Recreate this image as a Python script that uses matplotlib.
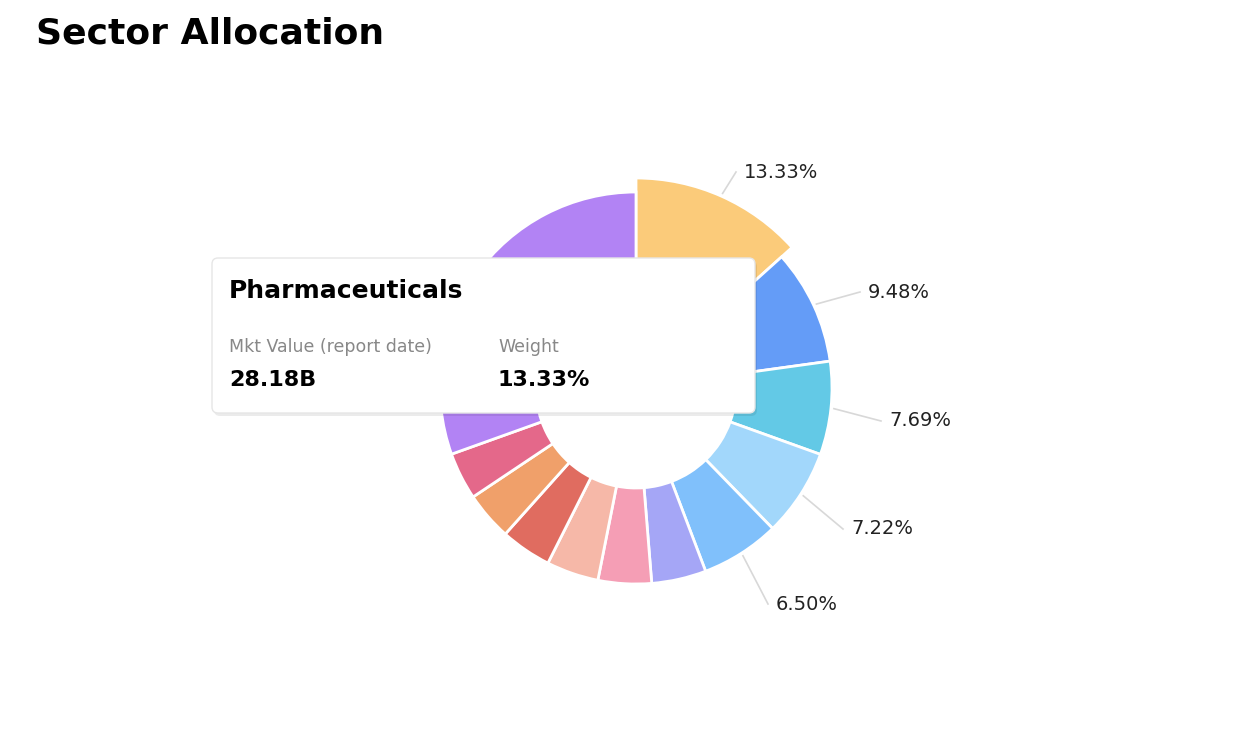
import matplotlib
matplotlib.use("Agg")
import matplotlib.pyplot as plt
from matplotlib.patches import FancyBboxPatch
import numpy as np

sectors = ["Pharmaceuticals", "S2", "S3", "S4", "S5", "S6", "S7", "S8", "S9", "S10", "S11", "S12"]
weights = [13.33, 9.48, 7.69, 7.22, 6.50, 4.5, 4.4, 4.3, 4.2, 4.0, 3.9, 30.48]
colors = ["#fbcb7a", "#649cf7", "#63c9e6", "#a2d7fb", "#80c0fb", "#a5a6f6", "#f59eb5",
          "#f6b8a8", "#e06c60", "#f0a06a", "#e4688a", "#b283f4"]
labeled = 5

W, H = 1250, 746
fig = plt.figure(figsize=(12.5, 7.46), dpi=100)
ax = fig.add_axes([0, 0, 1, 1])
ax.set_xlim(0, W); ax.set_ylim(0, H); ax.axis("off")

cx, cy = 636, H - 388
R, Rin = 196, 100
wedges, _ = ax.pie(weights, colors=colors, startangle=90, counterclock=False,
                   center=(cx, cy), radius=R, frame=True,
                   wedgeprops=dict(width=R - Rin, edgecolor="white", linewidth=2))
wedges[0].set_radius(210)
wedges[0].set_width(210 - Rin)
ax.set_xlim(0, W); ax.set_ylim(0, H); ax.axis("off"); ax.set_aspect("equal")

lab_pos = [(744, 172), (868, 292), (889, 421), (851, 529), (776, 604)]
cum = 0
for i in range(labeled):
    mid = 90 - (cum + weights[i] / 2) * 3.6
    cum += weights[i]
    r0 = (210 if i == 0 else R) + 3
    a = np.deg2rad(mid)
    x0, y0 = cx + r0 * np.cos(a), cy + r0 * np.sin(a)
    lx, ly = lab_pos[i]
    ax.plot([x0, lx - 8], [y0, H - ly], color="#d8d8d8", lw=1.2, zorder=1)
    ax.text(lx, H - ly, f"{weights[i]:.2f}%", fontsize=14, va="center", ha="left",
            color="#222222")

# tooltip
shadow = FancyBboxPatch((214, H - 416), 543, 155, boxstyle="round,pad=0,rounding_size=6",
                        fc="#000000", ec="none", alpha=0.08, zorder=5)
ax.add_patch(shadow)
box = FancyBboxPatch((212, H - 413), 543, 155, boxstyle="round,pad=0,rounding_size=6",
                     fc="white", ec="#e6e6e6", lw=1, zorder=6)
ax.add_patch(box)
ax.text(229, H - 291, "Pharmaceuticals", fontsize=18, weight="bold", va="center", zorder=7)
ax.text(229, H - 347, "Mkt Value (report date)", fontsize=12.5, color="#888888", va="center", zorder=7)
ax.text(229, H - 380, "28.18B", fontsize=16, weight="bold", va="center", zorder=7)
ax.text(498, H - 347, "Weight", fontsize=12.5, color="#888888", va="center", zorder=7)
ax.text(498, H - 380, "13.33%", fontsize=16, weight="bold", va="center", zorder=7)

ax.text(36, H - 33, "Sector Allocation", fontsize=26, weight="bold", va="center", ha="left")

fig.savefig("out.png", dpi=100)
